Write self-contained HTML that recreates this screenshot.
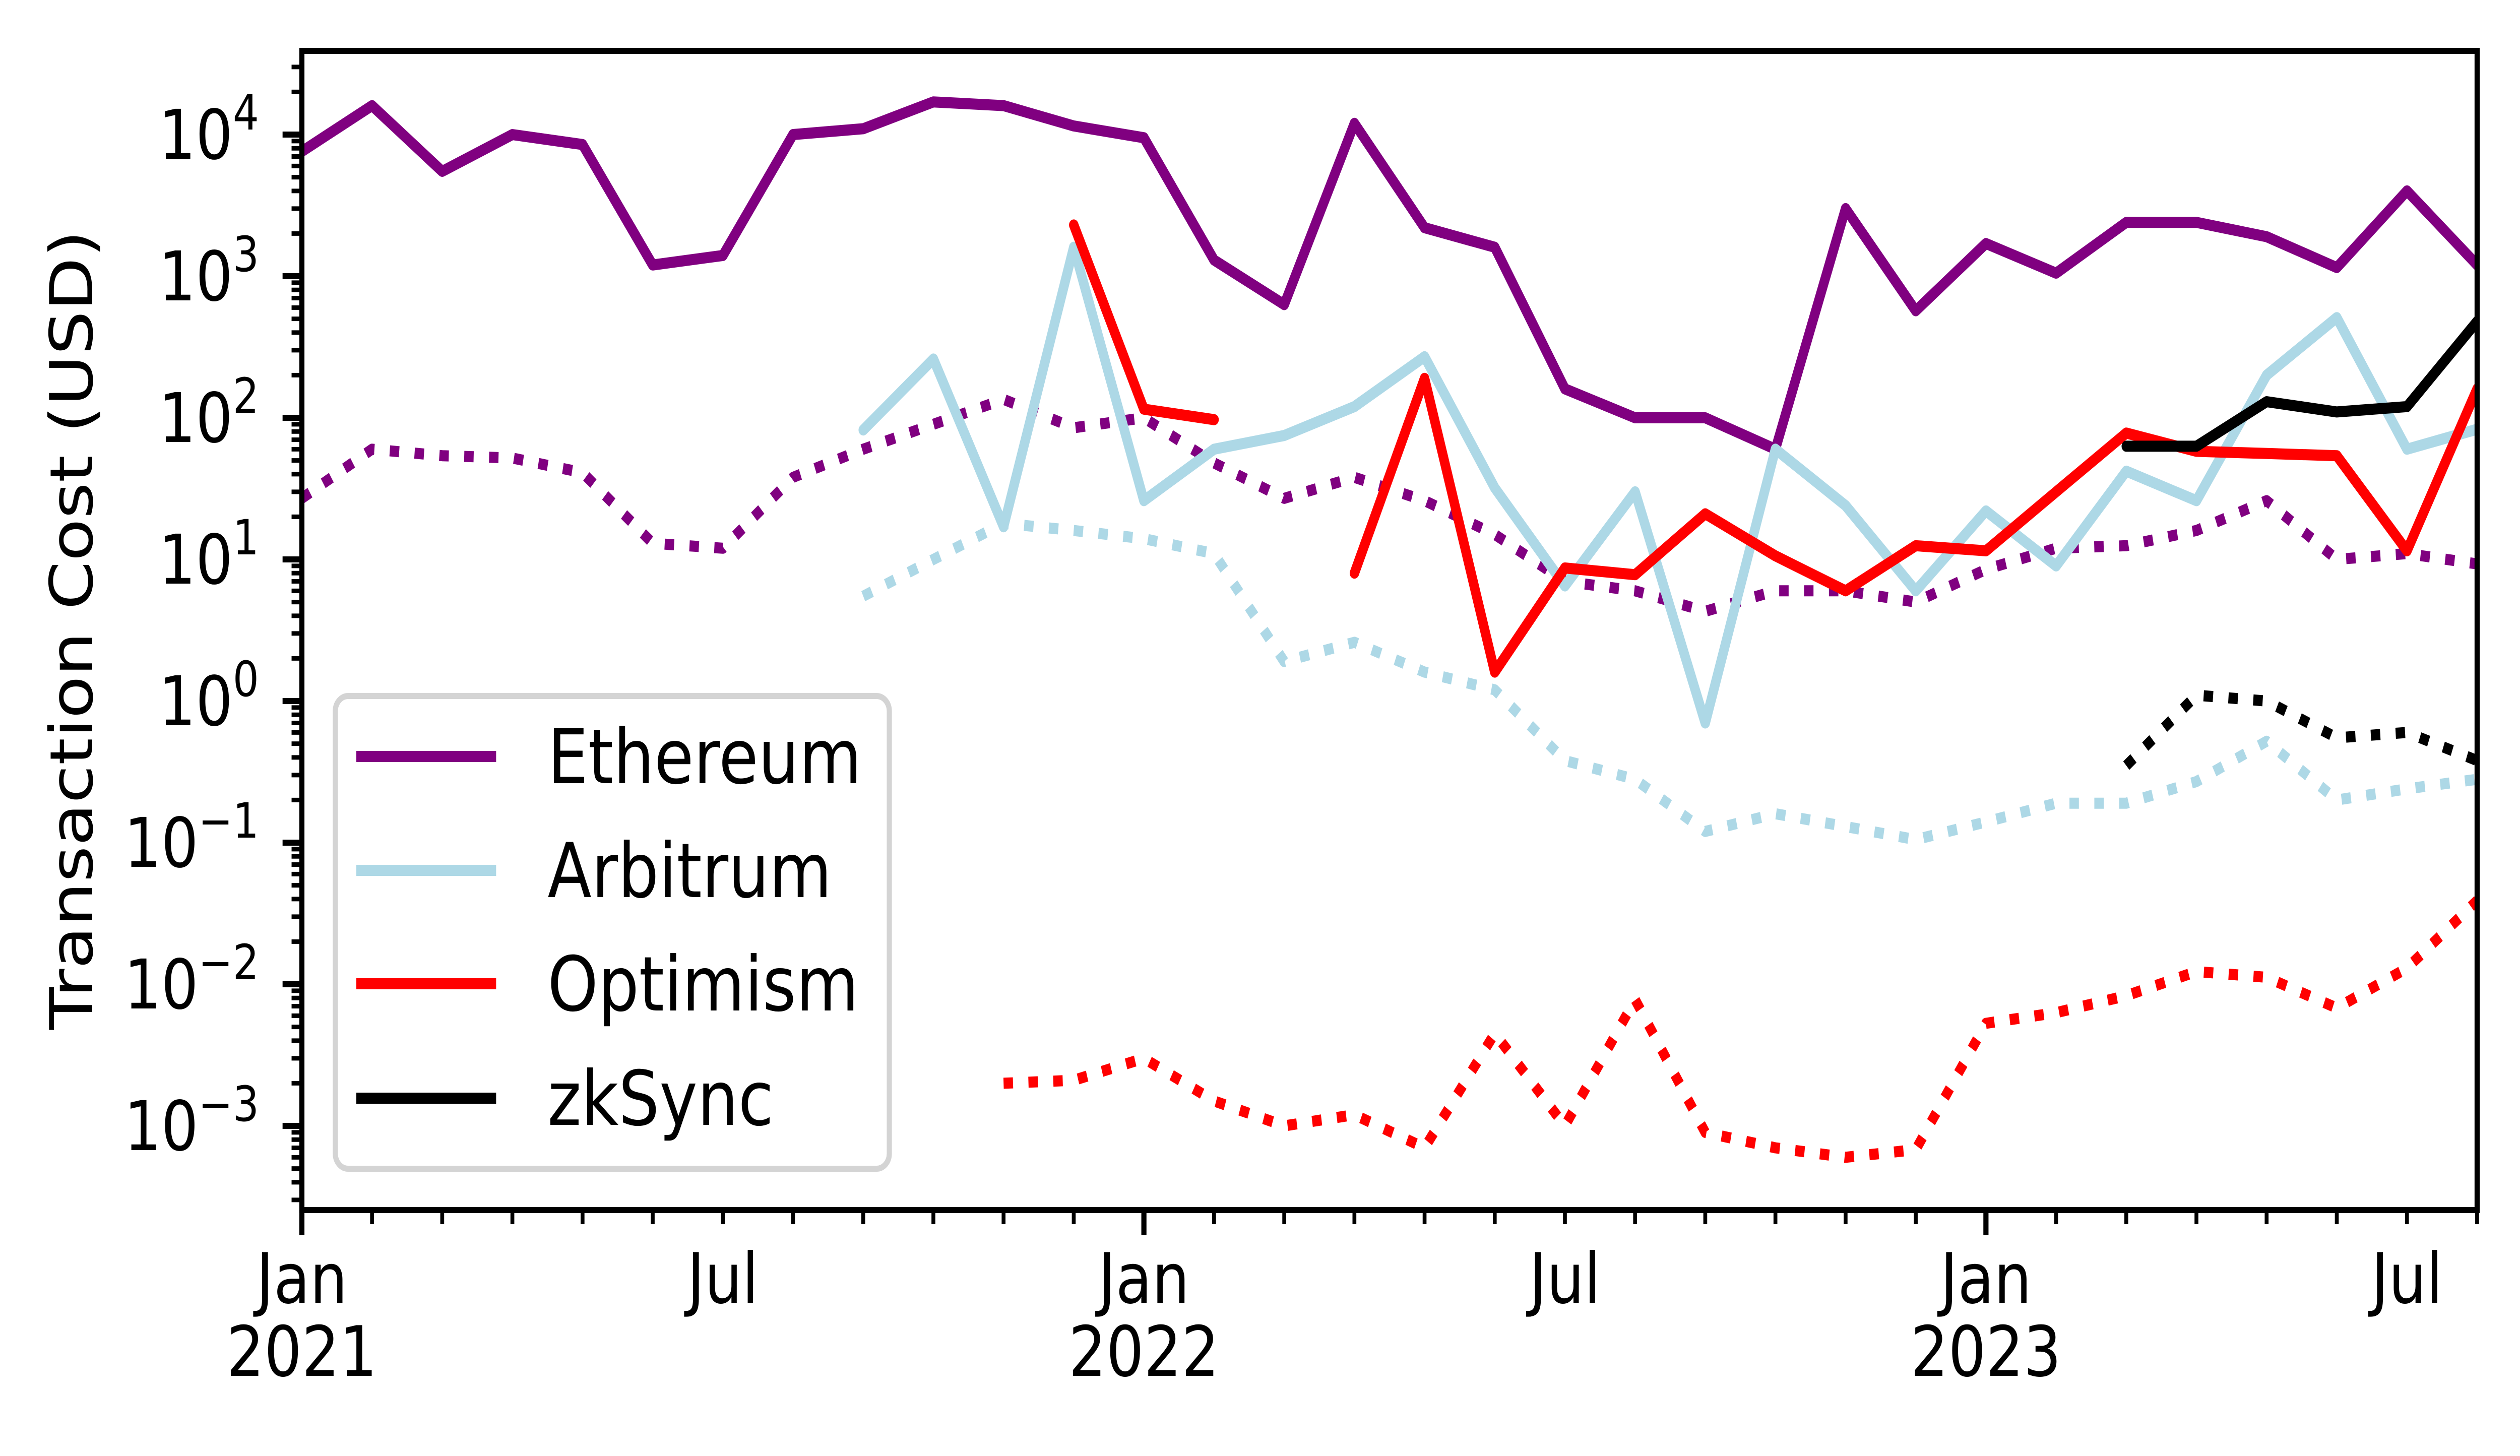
<!DOCTYPE html>
<html><head><meta charset="utf-8"><style>
html,body{margin:0;padding:0;background:#fff;width:100%;height:100%;overflow:hidden}
svg{display:block;width:100vw;height:100vh}
text{font-family:"DejaVu Sans","Liberation Sans",sans-serif;fill:#000}
</style></head><body>
<svg id="chart" viewBox="0 0 5877 2889" preserveAspectRatio="none" xmlns="http://www.w3.org/2000/svg">
<defs><clipPath id="clip"><rect x="704" y="101" width="5073" height="2300"/></clipPath></defs>
<rect width="5877" height="2889" fill="#fff"/>
<g id="plot" clip-path="url(#clip)"></g>
<g id="axes"></g>
<g id="legend"></g>
</svg>
<script>
// month index 0 = Jan 2021
const ethSolid = [7600,16000,5500,10000,8500,1200,1400,10000,11000,17000,16000,11500,9500,1300,630,12000,2200,1600,160,100,100,60,3000,570,1700,1050,2400,2400,1900,1150,4000,1200];
const ethDotted = [27,60,54,52,41,13,12,38,60,90,135,85,100,48,27,38,26,15,7,6,4.3,6,6,5,8.5,12,12.5,16,26,10,11,9.3];
const arbStart = 8;
const arbSolid = [82,260,17,1600,26,60,75,120,270,32,6.5,30,0.7,60,24,6,22,9,42,26,200,510,60,83];
const arbDotted = [5.5,10,18,16,14,11,1.9,2.6,1.6,1.2,0.38,0.28,0.12,0.16,0.13,0.105,0.14,0.19,0.19,0.27,0.52,0.2,0.24,0.28];
const opSeg1Start = 11;
const opSeg1 = [2300,115,97];
const opSeg2Start = 15;
const opSeg2 = [8,190,1.6,8.7,7.8,21,10.6,6,12.5,11.5,30,78,58,56,54,11.5,160];
const opDotStart = 10;
const opDotted = [0.002,0.0021,0.003,0.0015,0.001,0.0012,0.0007,0.0045,0.001,0.0078,0.0009,0.0007,0.0006,0.00068,0.0053,0.0063,0.0083,0.0123,0.0112,0.0068,0.013,0.039];
const zkStart = 26;
const zkSolid = [63,63,130,110,120,480];
const zkDotted = [0.35,1.1,1.0,0.55,0.6,0.38];
const yTickExps = [4,3,2,1,0,-1,-2,-3];
const xMajorLabels = [["Jan","2021",0],["Jan","2022",12],["Jan","2023",24]];
const xMinorLabels = [["Jul",6],["Jul",18],["Jul",30]];

const NS="http://www.w3.org/2000/svg";
const X0=704, X1=5777, Y0=101, Y1=2401, MW=(X1-X0)/31;
const DEC=281, Y4=267;
const xs = m => X0 + m*MW;
const ys = v => Y4 - (Math.log10(v)-4)*DEC;
function mk(tag, attrs, parent){const e=document.createElementNS(NS,tag);for(const k in attrs)e.setAttribute(k,attrs[k]);parent.appendChild(e);return e;}
const pg=document.getElementById('plot'), axes=document.getElementById('axes'), leg=document.getElementById('legend');
function line(vals,start,color,dotted,name){
  const pts=vals.map((v,i)=>xs(start+i).toFixed(1)+','+ys(v).toFixed(1)).join(' ');
  const a={points:pts,fill:'none',stroke:color,'stroke-width':22,'stroke-linejoin':'round','stroke-linecap':dotted?'butt':'round'};
  if(dotted)a['stroke-dasharray']='22 36';
  const el=mk('polyline',a,pg);
  
  
}
line(ethDotted,0,'#800080',true,'ethereum-dotted-line');
line(arbDotted,arbStart,'#add8e6',true,'arbitrum-dotted-line');
line(opDotted,opDotStart,'#ff0000',true,'optimism-dotted-line');
line(zkDotted,zkStart,'#000000',true,'zksync-dotted-line');
line(ethSolid,0,'#800080',false,'ethereum-line');
line(arbSolid,arbStart,'#add8e6',false,'arbitrum-line');
line(opSeg1,opSeg1Start,'#ff0000',false,'optimism-line-segment-1');
line(opSeg2,opSeg2Start,'#ff0000',false,'optimism-line-segment-2');
line(zkSolid,zkStart,'#000000',false,'zksync-line');

const fr=mk('rect',{x:X0,y:Y0,width:X1-X0,height:Y1-Y0,fill:'none',stroke:'#000','stroke-width':12},axes);


for(let e=-4;e<=4;e++){
  for(let k=1;k<=9;k++){
    const v=k*Math.pow(10,e), y=ys(v);
    if(y<Y0-1||y>Y1+1)continue;
    const len=k===1?45:24;
    mk('line',{x1:X0-len,x2:X0,y1:y,y2:y,stroke:'#000','stroke-width':k===1?12:9},axes);
  }
}
yTickExps.forEach(e=>{
  const t=mk('text',{x:604,y:ys(Math.pow(10,e))+48,'text-anchor':'end','font-size':136},axes);
  
  
  t.textContent='10';
  const s=document.createElementNS(NS,'tspan');s.setAttribute('dy',-58);s.setAttribute('font-size',96);
  s.textContent=(e<0?'\u2212':'')+Math.abs(e);t.appendChild(s);
});
for(let m=0;m<=31;m++){
  const major=m%12===0;
  mk('line',{x1:xs(m),x2:xs(m),y1:Y1,y2:Y1+(major?50:28),stroke:'#000','stroke-width':major?12:9},axes);
}
xMajorLabels.forEach(([a,b,m])=>{
  const t=mk('text',{x:xs(m),y:2585,'text-anchor':'middle','font-size':138},axes);
  
  
  t.textContent=a;
  const t2=mk('text',{x:xs(m),y:2730,'text-anchor':'middle','font-size':138},axes);
  
  
  t2.textContent=b;
});
xMinorLabels.forEach(([a,m])=>{
  const t=mk('text',{x:xs(m),y:2585,'text-anchor':'middle','font-size':138},axes);
  
  
  t.textContent=a;
});
const yl=mk('text',{x:0,y:0,'text-anchor':'middle','font-size':138,transform:'translate(215,1250) rotate(-90)'},axes);


yl.textContent='Transaction Cost (USD)';
const lb=mk('rect',{x:782,y:1381,width:1292,height:938,rx:30,fill:'#fff','fill-opacity':0.8,stroke:'#d4d4d4','stroke-width':12},leg);


const legNames=['Ethereum','Arbitrum','Optimism','zkSync'];
const legColors=['#800080','#add8e6','#ff0000','#000000'];
const legY=[1501,1727,1952,2179];
legNames.forEach((n,i)=>{
  const g=mk('g',{},leg);
  
  
  mk('line',{x1:831,x2:1157,y1:legY[i],y2:legY[i],stroke:legColors[i],'stroke-width':22},g);
  const t=mk('text',{x:1277,y:legY[i]+53,'font-size':150},g);
  t.textContent=n;
});
</script>
</body></html>
